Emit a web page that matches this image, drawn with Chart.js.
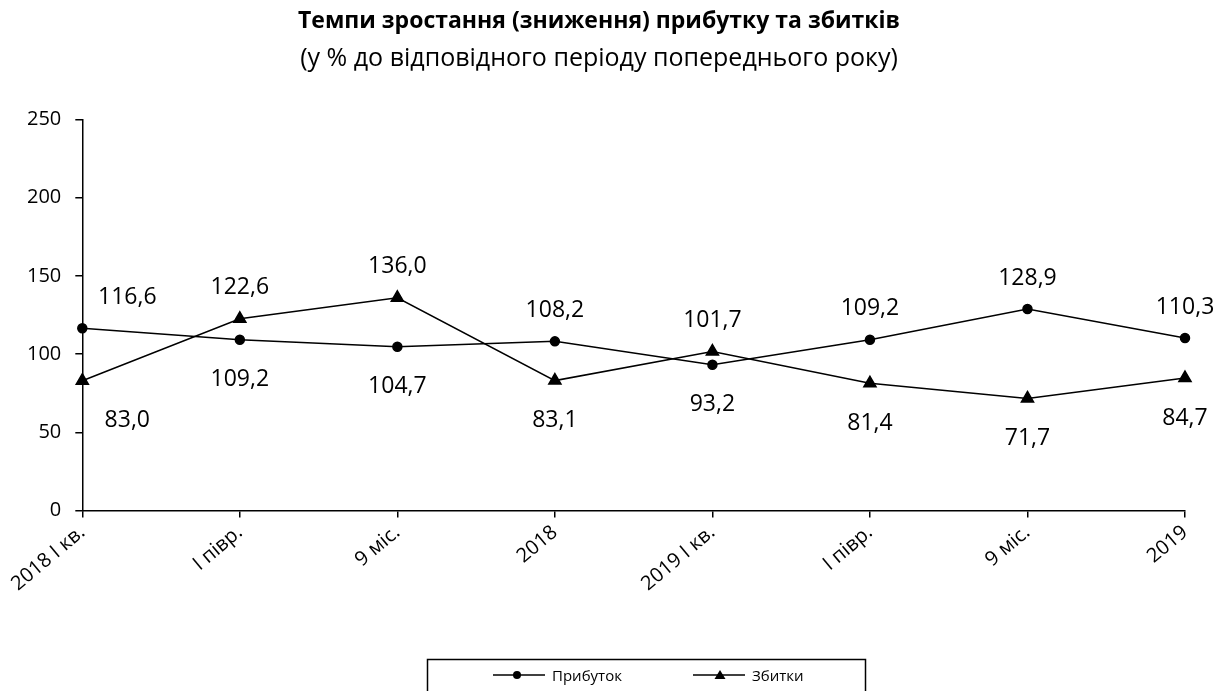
<!DOCTYPE html>
<html>
<head>
<meta charset="utf-8">
<script src="https://cdn.jsdelivr.net/npm/chart.js@4"></script>
<style>
  body { margin: 0; background: #fff; }
</style>
</head>
<body>
<canvas id="grafico" width="1229" height="691"></canvas>
<script>
// Дані з діаграми
const periodi = ['2018 I кв.', 'I півр.', '9 міс.', '2018', '2019 I кв.', 'I півр.', '9 міс.', '2019'];
const prybutok = [116.6, 109.2, 104.7, 108.2, 93.2, 109.2, 128.9, 110.3];
const zbytky = [83.0, 122.6, 136.0, 83.1, 101.7, 81.4, 71.7, 84.7];
const yTicks = [0, 50, 100, 150, 200, 250];

const FONT = "'Open Sans', 'Noto Sans', sans-serif";

// Підписи значень: більше значення над точкою, менше під нею
const pidpysy = {
    id: 'pidpysy',
    afterDatasetsDraw(chart) {
        const c = chart.ctx;
        const m0 = chart.getDatasetMeta(0);
        const m1 = chart.getDatasetMeta(1);
        c.save();
        c.font = '23px ' + FONT;
        c.fillStyle = '#000';
        c.textAlign = 'center';
        c.textBaseline = 'middle';
        periodi.forEach((p, i) => {
            const a = prybutok[i], b = zbytky[i];
            const pa = m0.data[i], pb = m1.data[i];
            const dx = i === 0 ? 45 : 0;
            const top = a >= b ? [pa, a] : [pb, b];
            const bot = a >= b ? [pb, b] : [pa, a];
            c.fillText(top[1].toFixed(1).replace('.', ','), top[0].x + dx, top[0].y - 31);
            c.fillText(bot[1].toFixed(1).replace('.', ','), bot[0].x + dx, bot[0].y + 40);
        });
        c.restore();
    }
};

// Легенда в рамці внизу
const legenda = {
    id: 'legenda',
    afterDraw(chart) {
        const c = chart.ctx;
        c.save();
        c.strokeStyle = '#000';
        c.lineWidth = 1.5;
        c.strokeRect(427.5, 659.5, 438, 45);
        c.font = '15px ' + FONT;
        c.fillStyle = '#000';
        c.textBaseline = 'middle';
        const y = 675;
        // Прибуток
        c.beginPath(); c.moveTo(493, y); c.lineTo(545, y); c.stroke();
        c.beginPath(); c.arc(517, y, 4, 0, Math.PI * 2); c.fill();
        c.fillText(chart.data.datasets[0].label, 552, y + 2);
        // Збитки
        c.beginPath(); c.moveTo(693, y); c.lineTo(745, y); c.stroke();
        c.beginPath(); c.moveTo(720, y - 5); c.lineTo(725.5, y + 4); c.lineTo(714.5, y + 4); c.closePath(); c.fill();
        c.fillText(chart.data.datasets[1].label, 752, y + 2);
        c.restore();
    }
};

const ctx = document.getElementById('grafico').getContext('2d');
const grafico = new Chart(ctx, {
    type: 'line',
    data: {
        labels: periodi,
        datasets: [{
            label: 'Прибуток',
            data: prybutok,
            borderColor: '#000',
            backgroundColor: '#000',
            borderWidth: 1.5,
            pointStyle: 'circle',
            pointRadius: 4.5,
            tension: 0
        }, {
            label: 'Збитки',
            data: zbytky,
            borderColor: '#000',
            backgroundColor: '#000',
            borderWidth: 1.5,
            pointStyle: 'triangle',
            pointRadius: 7,
            tension: 0
        }]
    },
    options: {
        responsive: false,
        animation: false,
        devicePixelRatio: 1,
        layout: { padding: { left: 13, right: 44, top: 8, bottom: 92 } },
        plugins: {
            legend: { display: false },
            tooltip: { enabled: false },
            title: {
                display: true,
                text: 'Темпи зростання (зниження) прибутку та збитків',
                color: '#000',
                font: { family: FONT, size: 23, weight: 'bold' },
                padding: { top: 0, bottom: 8 }
            },
            subtitle: {
                display: true,
                text: '(у % до відповідного періоду попереднього року)',
                color: '#000',
                font: { family: FONT, size: 25 },
                padding: { top: 0, bottom: 46 }
            }
        },
        scales: {
            x: {
                offset: false,
                grid: { display: true, drawOnChartArea: false, color: '#000', tickLength: 7, lineWidth: 1.5 },
                border: { color: '#000', width: 1.5 },
                ticks: {
                    color: '#000',
                    font: { family: FONT, size: 20 },
                    maxRotation: 40,
                    minRotation: 40,
                    autoSkip: false
                }
            },
            y: {
                min: 0,
                max: 250,
                afterBuildTicks(axis) { axis.ticks = yTicks.map(v => ({ value: v })); },
                grid: { display: true, drawOnChartArea: false, color: '#000', tickLength: 7, lineWidth: 1.5 },
                border: { color: '#000', width: 1.5 },
                ticks: {
                    color: '#000',
                    font: { family: FONT, size: 20 },
                    padding: 14
                }
            }
        }
    },
    plugins: [pidpysy, legenda]
});
</script>
</body>
</html>
